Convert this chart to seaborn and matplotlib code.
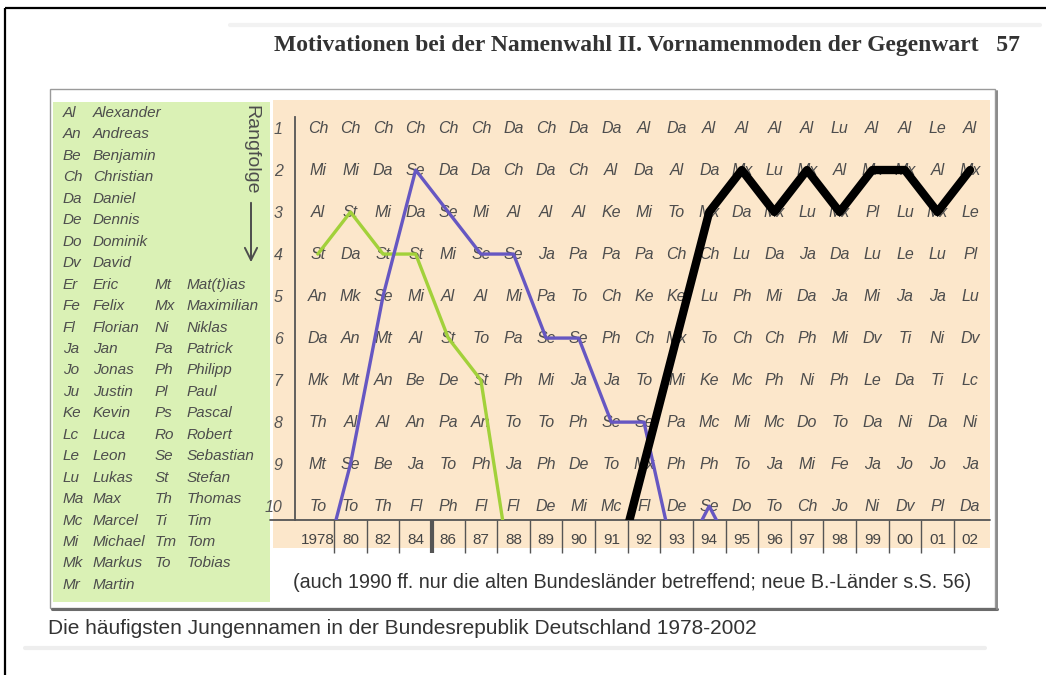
import numpy as np
import pandas as pd
import matplotlib
matplotlib.use("Agg")
import matplotlib.pyplot as plt
import seaborn as sns
from matplotlib.patches import Rectangle

# ---------------- data ----------------
years = ["1978", "80", "82", "84", "86", "87", "88", "89", "90", "91", "92",
         "93", "94", "95", "96", "97", "98", "99", "00", "01", "02"]
ranks = [1, 2, 3, 4, 5, 6, 7, 8, 9, 10]

rank_1 = ["Ch", "Ch", "Ch", "Ch", "Ch", "Ch", "Da", "Ch", "Da", "Da", "Al", "Da", "Al", "Al", "Al", "Al", "Lu", "Al", "Al", "Le", "Al"]
rank_2 = ["Mi", "Mi", "Da", "Se", "Da", "Da", "Ch", "Da", "Ch", "Al", "Da", "Al", "Da", "Mx", "Lu", "Mx", "Al", "Mx", "Mx", "Al", "Mx"]
rank_3 = ["Al", "St", "Mi", "Da", "Se", "Mi", "Al", "Al", "Al", "Ke", "Mi", "To", "Mx", "Da", "Mx", "Lu", "Mx", "Pl", "Lu", "Mx", "Le"]
rank_4 = ["St", "Da", "St", "St", "Mi", "Se", "Se", "Ja", "Pa", "Pa", "Pa", "Ch", "Ch", "Lu", "Da", "Ja", "Da", "Lu", "Le", "Lu", "Pl"]
rank_5 = ["An", "Mk", "Se", "Mi", "Al", "Al", "Mi", "Pa", "To", "Ch", "Ke", "Ke", "Lu", "Ph", "Mi", "Da", "Ja", "Mi", "Ja", "Ja", "Lu"]
rank_6 = ["Da", "An", "Mt", "Al", "St", "To", "Pa", "Se", "Se", "Ph", "Ch", "Mx", "To", "Ch", "Ch", "Ph", "Mi", "Dv", "Ti", "Ni", "Dv"]
rank_7 = ["Mk", "Mt", "An", "Be", "De", "St", "Ph", "Mi", "Ja", "Ja", "To", "Mi", "Ke", "Mc", "Ph", "Ni", "Ph", "Le", "Da", "Ti", "Lc"]
rank_8 = ["Th", "Al", "Al", "An", "Pa", "An", "To", "To", "Ph", "Se", "Se", "Pa", "Mc", "Mi", "Mc", "Do", "To", "Da", "Ni", "Da", "Ni"]
rank_9 = ["Mt", "Se", "Be", "Ja", "To", "Ph", "Ja", "Ph", "De", "To", "Mx", "Ph", "Ph", "To", "Ja", "Mi", "Fe", "Ja", "Jo", "Jo", "Ja"]
rank_10 = ["To", "To", "Th", "Fl", "Ph", "Fl", "Fl", "De", "Mi", "Mc", "Fl", "De", "Se", "Do", "To", "Ch", "Jo", "Ni", "Dv", "Pl", "Da"]

nan = np.nan
# traced names (values > 10 = below the top ten, line runs off the bottom)
stefan_rank = [4, 3, 4, 4, 6, 7, 12, nan, nan, nan, nan, nan, nan, nan, nan, nan, nan, nan, nan, nan, nan]
sebastian_rank = [12, 9, 5, 2, 3, 4, 4, 6, 6, 8, 8, 11.5, 10, 11.5, nan, nan, nan, nan, nan, nan, nan]
maximilian_rank = [nan, nan, nan, nan, nan, nan, nan, nan, nan, 12, 9, 6, 3, 2, 3, 2, 3, 2, 2, 3, 2]

legend_abbr_1 = ["Al", "An", "Be", "Ch", "Da", "De", "Do", "Dv", "Er", "Fe", "Fl", "Ja", "Jo", "Ju",
                 "Ke", "Lc", "Le", "Lu", "Ma", "Mc", "Mi", "Mk", "Mr"]
legend_name_1 = ["Alexander", "Andreas", "Benjamin", "Christian", "Daniel", "Dennis", "Dominik", "David",
                 "Eric", "Felix", "Florian", "Jan", "Jonas", "Justin", "Kevin", "Luca", "Leon", "Lukas",
                 "Max", "Marcel", "Michael", "Markus", "Martin"]
legend_abbr_2 = ["Mt", "Mx", "Ni", "Pa", "Ph", "Pl", "Ps", "Ro", "Se", "St", "Th", "Ti", "Tm", "To"]
legend_name_2 = ["Mat(t)ias", "Maximilian", "Niklas", "Patrick", "Philipp", "Paul", "Pascal", "Robert",
                 "Sebastian", "Stefan", "Thomas", "Tim", "Tom", "Tobias"]

header = "Motivationen bei der Namenwahl II. Vornamenmoden der Gegenwart   57"
note = "(auch 1990 ff. nur die alten Bundesländer betreffend; neue B.-Länder s.S. 56)"
caption = "Die häufigsten Jungennamen in der Bundesrepublik Deutschland 1978-2002"
axis_word = "Rangfolge"

# ---------------- style ----------------
sns.set_style("white")
plt.rcParams["font.family"] = ["Liberation Sans", "DejaVu Sans"]
SANS = ["Liberation Sans", "DejaVu Sans"]
SERIF = ["Liberation Serif", "DejaVu Serif"]
TXT = "#4d4d4d"
GREEN_BG = "#daf1b5"
PEACH_BG = "#fce7cb"

W, H = 1046, 675
fig = plt.figure(figsize=(W / 100, H / 100), dpi=100)
fig.patch.set_facecolor("white")

# page / decoration layer in pixel coordinates
bg = fig.add_axes([0, 0, 1, 1])
bg.set_xlim(0, W)
bg.set_ylim(H, 0)
bg.axis("off")

bg.plot([5, 5], [8, H], color="black", lw=1.6, solid_capstyle="butt")
bg.plot([5, W], [8, 8], color="black", lw=1.6, solid_capstyle="butt")
bg.plot([230, 1040], [25, 25], color="#f2f2f2", lw=3)
bg.plot([25, 985], [648, 648], color="#eeeeee", lw=3)

bg.add_patch(Rectangle((50, 89), 945, 519, facecolor="white", edgecolor="#9a9a9a", lw=1.0))
bg.plot([52, 997], [609, 609], color="#6b6b6b", lw=2.2)
bg.plot([996.5, 996.5], [91, 609], color="#8a8a8a", lw=1.4)
bg.add_patch(Rectangle((53, 102), 217, 500, facecolor=GREEN_BG, edgecolor="none"))
bg.add_patch(Rectangle((273, 100), 717, 448, facecolor=PEACH_BG, edgecolor="none"))

bg.text(1020, 45, header, ha="right", va="center", family=SERIF, fontsize=17,
        fontweight="bold", color="#333333")
bg.text(632, 583, note, ha="center", va="center", family=SANS, fontsize=14.2, color="#333333")
bg.text(48, 628, caption, ha="left", va="center", family=SANS, fontsize=15, color="#333333")

# name key
row_h = 21.45
for i, (a, n) in enumerate(zip(legend_abbr_1, legend_name_1)):
    y = 113 + row_h * i
    bg.text(63, y, a, ha="left", va="center", style="italic", family=SANS, fontsize=11, color=TXT)
    bg.text(93, y, n, ha="left", va="center", style="italic", family=SANS, fontsize=11, color=TXT)
for i, (a, n) in enumerate(zip(legend_abbr_2, legend_name_2)):
    y = 113 + row_h * (i + 8)
    bg.text(155, y, a, ha="left", va="center", style="italic", family=SANS, fontsize=11, color=TXT)
    bg.text(187, y, n, ha="left", va="center", style="italic", family=SANS, fontsize=11, color=TXT)

bg.text(251, 150, axis_word, rotation=-90, ha="center", va="center", family=SANS, fontsize=14, color=TXT)
bg.annotate("", xy=(251, 265), xytext=(251, 200),
            arrowprops=dict(arrowstyle="->", color=TXT, lw=1.4, mutation_scale=22))

# ---------------- rank grid ----------------
ax = fig.add_axes([295 / W, (H - 520) / H, 695 / W, 403 / H])
ax.patch.set_alpha(0)
xpos = np.arange(len(years))
ax.set_xlim(-0.7, 20.61)
ax.set_ylim(10.33, 0.738)

grid_rows = [rank_1, rank_2, rank_3, rank_4, rank_5, rank_6, rank_7, rank_8, rank_9, rank_10]
for r, row in zip(ranks, grid_rows):
    for c, name in zip(xpos, row):
        ax.text(c, r, name, ha="center", va="center", style="italic", family=SANS,
                fontsize=11.5, color=TXT, zorder=2)

traces = pd.DataFrame({"x": xpos, "St": stefan_rank, "Se": sebastian_rank, "Mx": maximilian_rank})
sns.lineplot(data=traces, x="x", y="St", ax=ax, color="#a2d13a", linewidth=2.4, zorder=3)
sns.lineplot(data=traces, x="x", y="Se", ax=ax, color="#6657c2", linewidth=2.4, zorder=3)
sns.lineplot(data=traces, x="x", y="Mx", ax=ax, color="black", linewidth=6, zorder=4)

ax.set_xticks(xpos)
ax.set_xticklabels(years, family=SANS)
ax.set_yticks(ranks)
ax.set_yticklabels([str(r) for r in ranks], style="italic", family=SANS)
ax.tick_params(axis="x", length=0, pad=9, labelsize=11, labelcolor="#444444")
ax.tick_params(axis="y", length=0, pad=9, labelsize=11.5, labelcolor="#555555")
ax.set_xlabel("")
ax.set_ylabel("")
for s in ["top", "right", "bottom"]:
    ax.spines[s].set_visible(False)
ax.spines["left"].set_color("#555555")
ax.spines["left"].set_linewidth(1.3)

# baseline and year separators
ax.plot([-25 / 695, 1], [0, 0], transform=ax.transAxes, color="#555555", lw=1.3, clip_on=False)
sep = xpos[:-1] + 0.5
widths = [3.0 if i == 3 else 1.0 for i in range(len(sep))]
ax.vlines(sep, 0, -33 / 403, transform=ax.get_xaxis_transform(), colors="#555555",
          linewidths=widths, clip_on=False)

fig.savefig("out.png", dpi=100, facecolor="white")
